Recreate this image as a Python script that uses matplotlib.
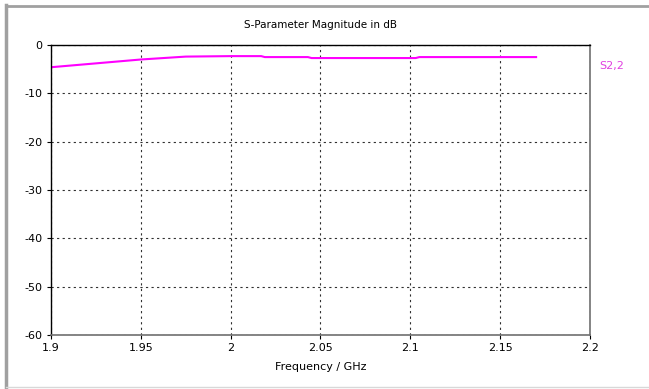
import matplotlib
matplotlib.use("Agg")
import matplotlib.pyplot as plt
from matplotlib.lines import Line2D

plt.rcParams["axes.unicode_minus"] = False

# S2,2 magnitude
freq_ghz = [1.9, 1.925, 1.95, 1.975, 2.0, 2.017, 2.019, 2.043, 2.045, 2.103, 2.105, 2.17]
s22_db = [-4.6, -3.8, -3.0, -2.4, -2.3, -2.3, -2.5, -2.5, -2.7, -2.7, -2.5, -2.5]

xticks = [1.9, 1.95, 2.0, 2.05, 2.1, 2.15, 2.2]
xtick_labels = ["1.9", "1.95", "2", "2.05", "2.1", "2.15", "2.2"]
yticks = [0, -10, -20, -30, -40, -50, -60]

fig = plt.figure(figsize=(6.49, 3.89), dpi=100)
ax = fig.add_axes([51 / 649, 1 - 335 / 389, 539 / 649, 290 / 389])

ax.plot(freq_ghz, s22_db, color="#ff00ff", linewidth=1.5)

ax.set_xlim(1.9, 2.2)
ax.set_ylim(-60, 0)
ax.set_xticks(xticks)
ax.set_xticklabels(xtick_labels)
ax.set_yticks(yticks)
ax.tick_params(direction="out", length=3, width=0.8, labelsize=8, pad=3)
ax.grid(True, color="#303030", linestyle=(0, (2, 3)), linewidth=0.8)

for side in ["left", "top"]:
    ax.spines[side].set_color("black")
    ax.spines[side].set_linewidth(1.0)
for side in ["right", "bottom"]:
    ax.spines[side].set_color("#707070")
    ax.spines[side].set_linewidth(1.2)

ax.set_title("S-Parameter Magnitude in dB", fontsize=7.5, pad=12)
ax.set_xlabel("Frequency / GHz", fontsize=8, labelpad=6)

fig.text(599 / 649, 1 - 66 / 389, "S2,2", color="#e040e0", fontsize=8,
         va="center", ha="left")

# window frame
fig.add_artist(Line2D([6 / 649, 6 / 649], [0, 1 - 5 / 389], color="#a0a0a0", linewidth=2.5))
fig.add_artist(Line2D([6 / 649, 1], [1 - 6 / 389, 1 - 6 / 389], color="#a0a0a0", linewidth=2.0))
fig.add_artist(Line2D([6 / 649, 1], [2 / 389, 2 / 389], color="#d8d8d8", linewidth=1.0))

plt.savefig("out.png", dpi=100)
